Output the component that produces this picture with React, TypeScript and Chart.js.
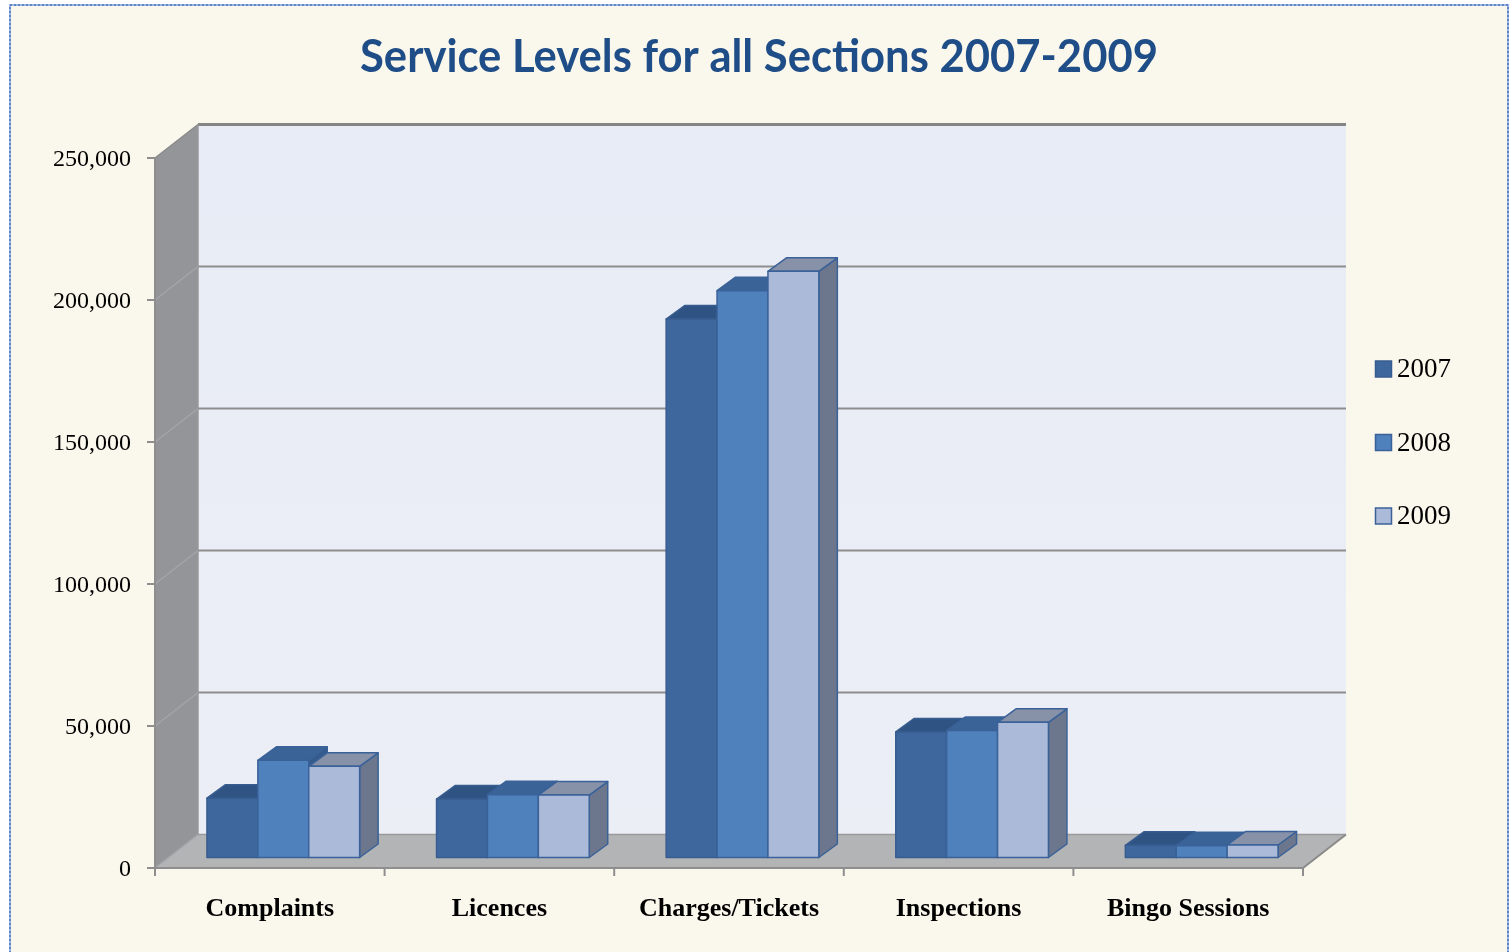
import React, { useEffect, useRef } from "react";
import { Chart, registerables } from "chart.js";

Chart.register(...registerables);

// ---------------- data ----------------
const categories = ["Complaints", "Licences", "Charges/Tickets", "Inspections", "Bingo Sessions"];
const seriesNames = ["2007", "2008", "2009"];
const values2007 = [20900, 20600, 189600, 44200, 4300];
const values2008 = [34200, 22100, 199600, 44700, 4100];
const values2009 = [32100, 22000, 206400, 47600, 4400];
const yTickValues = [0, 50000, 100000, 150000, 200000, 250000];
const yMax = 250000;
const titleText = "Service Levels for all Sections 2007-2009";

// ---------------- styles ----------------
const W = 1511;
const H = 952;
const FRONT = { dx: -13.5, dy: 10.5 }; // bar plane -> front plane
const BACK = { dx: 29.5, dy: -23 }; // bar plane -> back wall plane
const DEPTH = { dx: 18.5, dy: -13.5 }; // bar depth
const frontColors = ["#3E679E", "#4F81BD", "#ABBAD9"];
const topColors = ["#2F5383", "#3A6398", "#8791A8"];
const sideColors = ["#2C4B76", "#355A8C", "#6C778E"];
const edgeColors = ["#375C8F", "#3A6299", "#3A6299"];
const gridColor = "#8E8E8E";
const serif = '"Liberation Serif", "Times New Roman", serif';

function poly(ctx: CanvasRenderingContext2D, pts: number[][], fill: string, stroke?: string, lw = 1) {
  ctx.beginPath();
  ctx.moveTo(pts[0][0], pts[0][1]);
  for (let i = 1; i < pts.length; i++) ctx.lineTo(pts[i][0], pts[i][1]);
  ctx.closePath();
  ctx.fillStyle = fill;
  ctx.fill();
  if (stroke) {
    ctx.strokeStyle = stroke;
    ctx.lineWidth = lw;
    ctx.lineJoin = "round";
    ctx.stroke();
  }
}

const threeDPlugin = {
  id: "threeD",
  beforeDraw(chart: any) {
    const ctx: CanvasRenderingContext2D = chart.ctx;
    const ca = chart.chartArea;
    const ys = chart.scales.y;
    const xs = chart.scales.x;
    const y0 = ys.getPixelForValue(0);
    const yT = ys.getPixelForValue(yMax);
    const L = ca.left;
    const R = ca.right;
    ctx.save();
    // page background
    ctx.fillStyle = "#FFFFFF";
    ctx.fillRect(0, 0, W, H);
    ctx.fillStyle = "#FAF7EC";
    ctx.fillRect(10, 5, 1498, H);
    // dotted border
    ctx.strokeStyle = "#9DB5E0";
    ctx.lineWidth = 2;
    ctx.strokeRect(10, 5, 1498, H + 20);
    ctx.setLineDash([2, 2]);
    ctx.strokeStyle = "#5F86C8";
    ctx.strokeRect(10, 5, 1498, H + 20);
    ctx.setLineDash([]);

    // title
    ctx.font = 'bold 45px Lato, "Open Sans", sans-serif';
    const tw = ctx.measureText(titleText).width;
    const targetW = 798;
    ctx.save();
    ctx.translate(759, 72);
    ctx.scale(targetW / tw, 1);
    ctx.fillStyle = "#1F4D87";
    ctx.textAlign = "center";
    ctx.textBaseline = "alphabetic";
    ctx.fillText(titleText, 0, 0);
    ctx.restore();

    // back wall
    const bL = L + BACK.dx, bR = R + BACK.dx, bT = yT + BACK.dy, bB = y0 + BACK.dy;
    const g = ctx.createLinearGradient(0, bT, 0, bB);
    g.addColorStop(0, "#E8ECF6");
    g.addColorStop(1, "#EBEEF5");
    ctx.fillStyle = g;
    ctx.fillRect(bL, bT, bR - bL, bB - bT);
    // left wall
    const fL = L + FRONT.dx, fR = R + FRONT.dx, fT = yT + FRONT.dy, fB = y0 + FRONT.dy;
    poly(ctx, [[fL, fT], [bL, bT], [bL, bB], [fL, fB]], "#939598");
    // floor
    poly(ctx, [[fL, fB], [fR, fB], [bR, bB], [bL, bB]], "#B3B4B6");

    // gridlines
    ctx.lineCap = "butt";
    for (const v of yTickValues) {
      const yb = ys.getPixelForValue(v) + BACK.dy;
      const yf = ys.getPixelForValue(v) + FRONT.dy;
      ctx.strokeStyle = v === yMax ? "#858585" : gridColor;
      ctx.lineWidth = v === yMax ? 3 : 2;
      if (v !== 0) {
        ctx.beginPath();
        ctx.moveTo(bL, yb);
        ctx.lineTo(bR, yb);
        ctx.stroke();
      }
      ctx.strokeStyle = v === yMax ? "#8A8A8A" : "#A3A5A8";
      ctx.lineWidth = 1.5;
      ctx.beginPath();
      ctx.moveTo(fL, yf);
      ctx.lineTo(bL, yb);
      ctx.stroke();
    }
    // back wall left edge
    ctx.strokeStyle = "#9A9A9A";
    ctx.lineWidth = 1.5;
    ctx.beginPath();
    ctx.moveTo(bL, bT);
    ctx.lineTo(bL, bB);
    ctx.stroke();
    // floor back edge
    ctx.beginPath();
    ctx.moveTo(bL, bB);
    ctx.lineTo(bR, bB);
    ctx.stroke();
    // floor right diagonal
    ctx.strokeStyle = "#8A8A8A";
    ctx.lineWidth = 2;
    ctx.beginPath();
    ctx.moveTo(fR, fB);
    ctx.lineTo(bR, bB);
    ctx.stroke();

    // front axes
    ctx.strokeStyle = gridColor;
    ctx.lineWidth = 2;
    ctx.beginPath();
    ctx.moveTo(fL, fT - 1);
    ctx.lineTo(fL, fB);
    ctx.lineTo(fR, fB);
    ctx.stroke();
    // y ticks + labels
    ctx.fillStyle = "#000000";
    ctx.font = `24px ${serif}`;
    ctx.textAlign = "right";
    ctx.textBaseline = "alphabetic";
    for (const v of yTickValues) {
      const yf = ys.getPixelForValue(v) + FRONT.dy;
      ctx.beginPath();
      ctx.moveTo(fL - 8, yf);
      ctx.lineTo(fL, yf);
      ctx.stroke();
      ctx.fillText(v.toLocaleString("en-US"), fL - 24, yf + 8.4);
    }
    // x ticks + labels
    const n = categories.length;
    const cw = (R - L) / n;
    for (let i = 0; i <= n; i++) {
      const xx = fL + i * cw;
      ctx.beginPath();
      ctx.moveTo(xx, fB);
      ctx.lineTo(xx, fB + 8);
      ctx.stroke();
    }
    ctx.font = `bold 26px ${serif}`;
    ctx.textAlign = "center";
    for (let i = 0; i < n; i++) {
      const cx = xs.getPixelForValue(i) + FRONT.dx;
      ctx.fillText(categories[i], cx, 916);
    }

    // legend
    ctx.font = `27px ${serif}`;
    ctx.textAlign = "left";
    for (let k = 0; k < seriesNames.length; k++) {
      const ly = 361 + k * 73.5;
      ctx.fillStyle = frontColors[k];
      ctx.fillRect(1375.5, ly, 16, 16);
      ctx.strokeStyle = edgeColors[k];
      ctx.lineWidth = 1.5;
      ctx.strokeRect(1375.5, ly, 16, 16);
      ctx.fillStyle = "#000000";
      ctx.fillText(seriesNames[k], 1397, ly + 16);
    }
    ctx.restore();
  },
  beforeDatasetsDraw(chart: any) {
    const ctx: CanvasRenderingContext2D = chart.ctx;
    const nCat = categories.length;
    const metas = chart.data.datasets.map((_: any, k: number) => chart.getDatasetMeta(k));
    ctx.save();
    for (let j = 0; j < nCat; j++) {
      for (let k = 0; k < metas.length; k++) {
        const el = metas[k].data[j];
        const p = el.getProps(["x", "y", "base", "width"], true);
        const l = p.x - p.width / 2;
        const r = p.x + p.width / 2;
        const t = Math.min(p.y, p.base);
        const b = Math.max(p.y, p.base);
        const dx = DEPTH.dx, dy = DEPTH.dy;
        poly(ctx, [[r, t], [r + dx, t + dy], [r + dx, b + dy], [r, b]], sideColors[k], edgeColors[k], 1.5);
        poly(ctx, [[l, t], [l + dx, t + dy], [r + dx, t + dy], [r, t]], topColors[k], edgeColors[k], 1.5);
        poly(ctx, [[l, t], [r, t], [r, b], [l, b]], frontColors[k], edgeColors[k], 1.5);
      }
    }
    ctx.restore();
    return false;
  },
};

export default function App() {
  const ref = useRef<HTMLCanvasElement>(null);
  useEffect(() => {
    if (!ref.current) return;
    const series = [values2007, values2008, values2009];
    const chart = new Chart(ref.current, {
      type: "bar",
      data: {
        labels: categories,
        datasets: seriesNames.map((name, k) => ({
          label: name,
          data: series[k],
          backgroundColor: frontColors[k],
          borderColor: edgeColors[k],
          borderWidth: 1,
          barPercentage: 1,
          categoryPercentage: 0.665,
        })),
      },
      options: {
        responsive: false,
        animation: false,
        devicePixelRatio: 1,
        layout: {
          padding: { left: 168.5, right: W - 1316.5, top: 147.5, bottom: H - 857.5 },
        },
        scales: {
          x: { display: false },
          y: { display: false, min: 0, max: yMax },
        },
        plugins: {
          legend: { display: false },
          title: { display: false },
          tooltip: { enabled: false },
        },
      },
      plugins: [threeDPlugin],
    });
    return () => chart.destroy();
  }, []);
  return (
    <div style={{ position: "fixed", left: 0, top: 0, width: W, height: H }}>
      <canvas ref={ref} width={W} height={H} style={{ display: "block", width: W, height: H }} />
    </div>
  );
}
